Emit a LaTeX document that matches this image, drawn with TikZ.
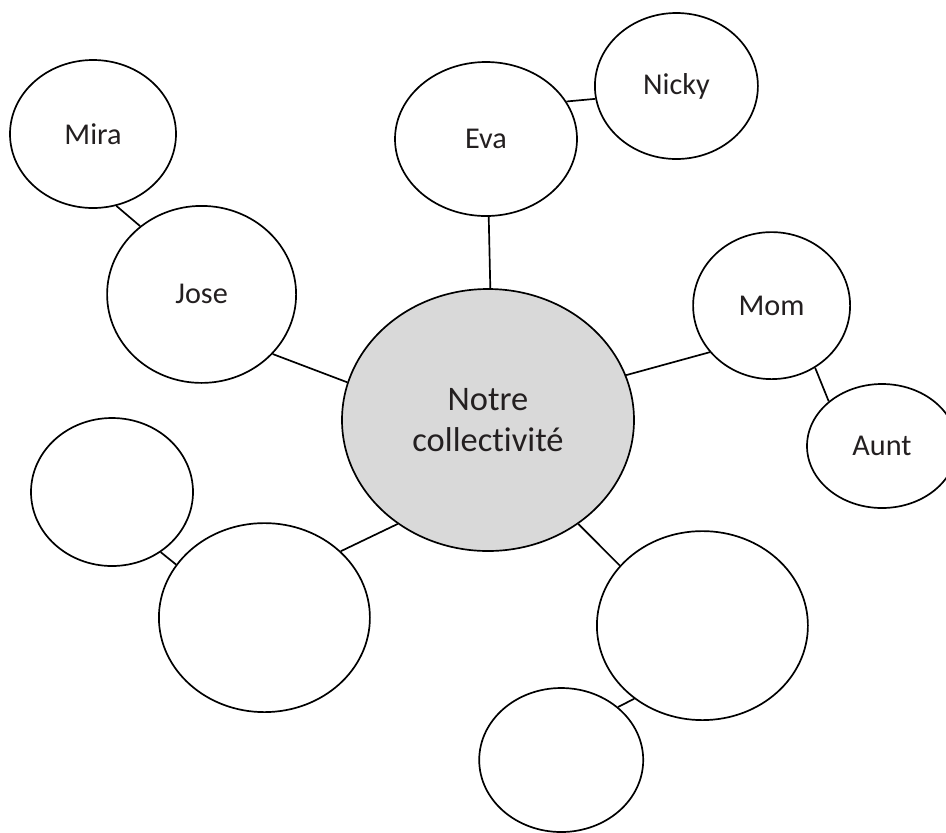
\documentclass[tikz,border=0pt]{standalone}
\usepackage{fontspec}
\setmainfont{Carlito}[Ligatures=NoCommon]
\usepackage{tikz}
\usetikzlibrary{shapes.geometric}

\definecolor{inkgray}{RGB}{35,31,32}
\definecolor{hubfill}{RGB}{217,217,217}

\begin{document}
\begin{tikzpicture}[
    bubble/.style={draw, ellipse, line width=1.2pt, inner sep=0pt, align=center,
        text=inkgray, font=\fontsize{21.5}{25}\selectfont},
    hub/.style={bubble, fill=hubfill, font=\fontsize{24.5}{29}\selectfont},
    link/.style={line width=1.2pt}
]

% Frame
\useasboundingbox (0,0) rectangle (23.65,-20.8);

% Center
\node[hub, minimum width=7.3cm, minimum height=6.55cm] (hub) at (12.2, -10.5) {Notre\\collectivité};

% Named bubbles
\node[bubble, minimum width=4.15cm, minimum height=3.7cm] (mira) at (2.325, -3.35) {Mira};
\node[bubble, minimum width=4.725cm, minimum height=4.425cm] (jose) at (5.04, -7.36) {Jose};
\node[bubble, minimum width=4.55cm, minimum height=3.85cm] (eva) at (12.15, -3.475) {Eva};
\node[bubble, minimum width=4.075cm, minimum height=3.65cm] (nicky) at (16.91, -2.15) {Nicky};
\node[bubble, minimum width=3.925cm, minimum height=3.675cm] (mom) at (19.29, -7.64) {Mom};
\node[bubble, minimum width=3.75cm, minimum height=3.1cm] (aunt) at (22.05, -11.15) {Aunt};

% Empty bubbles
\node[bubble, minimum width=4.05cm, minimum height=3.7cm] (blankA) at (2.8, -12.3) {};
\node[bubble, minimum width=5.275cm, minimum height=4.725cm] (blankB) at (6.61, -15.44) {};
\node[bubble, minimum width=5.275cm, minimum height=4.725cm] (blankC) at (17.56, -15.64) {};
\node[bubble, minimum width=4.1cm, minimum height=3.6cm] (blankD) at (14.03, -19.0) {};

% Connections
\foreach \a/\b in {mira.-72/jose.132, jose.-40/hub.165, eva.-88/hub.89,
                   eva.25/nicky.189, hub.18/mom.217, mom.-55/aunt.140,
                   hub.229/blankB.41, blankA.-51/blankB.149,
                   hub.-49/blankC.144, blankC.227/blankD.43}
    \draw[link] (\a) -- (\b);

\end{tikzpicture}
\end{document}
